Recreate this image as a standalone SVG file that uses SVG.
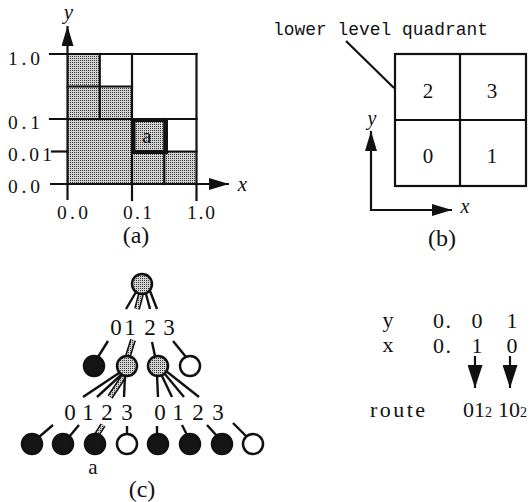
<svg xmlns="http://www.w3.org/2000/svg" width="532" height="502" viewBox="0 0 532 502">
<defs>
<pattern id="stip" width="2" height="2" patternUnits="userSpaceOnUse">
<rect width="2" height="2" fill="#d2d2d2"/>
<rect width="1" height="1" fill="#3a3a3a"/>
</pattern>
<marker id="arr" viewBox="0 0 20 12" refX="20" refY="6" markerWidth="20" markerHeight="12" markerUnits="userSpaceOnUse" orient="auto">
<path d="M0,0 L20,6 L0,12 z" fill="#111"/>
</marker>
<marker id="arr2" viewBox="0 0 23 15" refX="23" refY="7.5" markerWidth="23" markerHeight="15" markerUnits="userSpaceOnUse" orient="auto">
<path d="M0,0 L23,7.5 L0,15 z" fill="#111"/>
</marker>
</defs>
<style>
.ln{stroke:#111;stroke-width:2.2;fill:none;stroke-linecap:square}
.thin{stroke:#111;stroke-width:2.2;fill:none}
.t{font-family:"Liberation Serif",serif;fill:#111}
.it{font-family:"Liberation Serif",serif;font-style:italic;fill:#111}
.mono{font-family:"Liberation Mono",monospace;fill:#111}
.sh{fill:url(#stip)}
.node-sh{fill:url(#stip);stroke:#111;stroke-width:2.5}
.node-bk{fill:#151515;stroke:#111;stroke-width:2.5}
.node-wh{fill:#fff;stroke:#111;stroke-width:2.5}
.edge{stroke:#111;stroke-width:2.4;fill:none}
.hatch-o{stroke:#111;stroke-width:6;fill:none}
.hatch-i{stroke:url(#stip);stroke-width:3;fill:none}
</style>
<rect width="532" height="502" fill="#fff"/>

<!-- Panel (a) -->
<g id="panel-a">
<g id="a-shading">
<rect class="sh" x="67.5" y="54" width="32.25" height="32.5"/>
<rect class="sh" x="67.5" y="86.5" width="64.5" height="32.5"/>
<rect class="sh" x="67.5" y="119" width="64.5" height="65"/>
<rect class="sh" x="132" y="119" width="32.25" height="65"/>
<rect class="sh" x="164.25" y="151.5" width="32.25" height="32.5"/>
</g>
<g id="a-grid">
<line class="ln" x1="50" y1="54" x2="196.5" y2="54"/>
<line class="ln" x1="196.5" y1="54" x2="196.5" y2="200"/>
<line class="ln" x1="50" y1="119" x2="196.5" y2="119"/>
<line class="ln" x1="132" y1="54" x2="132" y2="200"/>
<line class="ln" x1="99.75" y1="54" x2="99.75" y2="119"/>
<line class="ln" x1="67.5" y1="86.5" x2="132" y2="86.5"/>
<line class="ln" x1="164.25" y1="119" x2="164.25" y2="184"/>
<line class="ln" x1="132" y1="151.5" x2="196.5" y2="151.5"/>
<line class="ln" x1="52" y1="151.5" x2="67.5" y2="151.5"/>
<rect x="133.5" y="120" width="32.5" height="32" fill="none" stroke="#111" stroke-width="4"/>
<line class="thin" x1="67.5" y1="200" x2="67.5" y2="26" marker-end="url(#arr)"/>
<line class="thin" x1="50" y1="184" x2="229" y2="184" marker-end="url(#arr)"/>
</g>
<g id="a-labels">
<text class="it" x="68.5" y="19" font-size="21" text-anchor="middle">y</text>
<text class="it" x="242.5" y="191" font-size="21" text-anchor="middle">x</text>
<text class="t" x="8" y="65" font-size="19.5" textLength="32" lengthAdjust="spacing">1.0</text>
<text class="t" x="8" y="129" font-size="19.5" textLength="32" lengthAdjust="spacing">0.1</text>
<text class="t" x="8" y="161" font-size="19.5" textLength="44" lengthAdjust="spacing">0.01</text>
<text class="t" x="8" y="193" font-size="19.5" textLength="32" lengthAdjust="spacing">0.0</text>
<text class="t" x="57" y="219" font-size="19.5" textLength="31" lengthAdjust="spacing">0.0</text>
<text class="t" x="123" y="219" font-size="19.5" textLength="29" lengthAdjust="spacing">0.1</text>
<text class="t" x="187" y="219" font-size="19.5" textLength="28" lengthAdjust="spacing">1.0</text>
<text class="t" x="147" y="143" font-size="21" text-anchor="middle">a</text>
<text class="t" x="136" y="243" font-size="24" text-anchor="middle">(a)</text>
</g>
</g>

<!-- Panel (b) -->
<g id="panel-b">
<text class="mono" x="273" y="35" font-size="17.9" textLength="215" lengthAdjust="spacing">lower level quadrant</text>
<line class="thin" x1="346" y1="41" x2="394" y2="88"/>
<rect x="395" y="54" width="131" height="132" fill="none" stroke="#111" stroke-width="2.2"/>
<line class="thin" x1="460" y1="54" x2="460" y2="186"/>
<line class="thin" x1="395" y1="120" x2="526" y2="120"/>
<text class="t" x="428" y="98" font-size="21" text-anchor="middle">2</text>
<text class="t" x="492" y="98" font-size="21" text-anchor="middle">3</text>
<text class="t" x="428" y="163" font-size="21" text-anchor="middle">0</text>
<text class="t" x="492" y="163" font-size="21" text-anchor="middle">1</text>
<line class="thin" x1="371" y1="211" x2="371" y2="131" marker-end="url(#arr)"/>
<line class="thin" x1="370" y1="210" x2="452" y2="210" marker-end="url(#arr)"/>
<text class="it" x="372" y="125" font-size="20" text-anchor="middle">y</text>
<text class="it" x="465" y="213" font-size="20" text-anchor="middle">x</text>
<text class="t" x="442" y="246" font-size="24" text-anchor="middle">(b)</text>
</g>

<!-- Panel (c): tree -->
<g id="panel-c">
<g id="connectors">
<line class="edge" x1="136" y1="292" x2="126" y2="309"/>
<line class="hatch-o" x1="141" y1="294" x2="137" y2="309"/>
<line class="hatch-i" x1="141" y1="294" x2="137" y2="309"/>
<line class="edge" x1="146" y1="294" x2="150" y2="309"/>
<line class="edge" x1="150" y1="291" x2="157" y2="309"/>

<line class="edge" x1="108" y1="341" x2="98" y2="357"/>
<line class="hatch-o" x1="133" y1="340" x2="128" y2="356"/>
<line class="hatch-i" x1="133" y1="340" x2="128" y2="356"/>
<line class="edge" x1="152" y1="342" x2="155" y2="356"/>
<line class="edge" x1="173" y1="341" x2="186" y2="357"/>

<line class="edge" x1="119" y1="373" x2="83" y2="397"/>
<line class="edge" x1="121" y1="375" x2="97" y2="397"/>
<line class="hatch-o" x1="124" y1="376" x2="110" y2="397"/>
<line class="hatch-i" x1="124" y1="376" x2="110" y2="397"/>
<line class="edge" x1="125" y1="376" x2="124" y2="397"/>

<line class="edge" x1="157" y1="375" x2="158" y2="397"/>
<line class="edge" x1="161" y1="374" x2="172" y2="397"/>
<line class="edge" x1="164" y1="373" x2="184" y2="397"/>
<line class="edge" x1="166" y1="371" x2="199" y2="397"/>

<line class="edge" x1="53" y1="425" x2="39" y2="437"/>
<line class="edge" x1="79" y1="425" x2="69" y2="437"/>
<line class="hatch-o" x1="103" y1="425" x2="96" y2="436"/>
<line class="hatch-i" x1="103" y1="425" x2="96" y2="436"/>
<line class="edge" x1="127" y1="426" x2="127" y2="434"/>
<line class="edge" x1="157" y1="426" x2="157" y2="434"/>
<line class="edge" x1="182" y1="425" x2="187" y2="435"/>
<line class="edge" x1="207" y1="425" x2="217" y2="436"/>
<line class="edge" x1="233" y1="423" x2="247" y2="437"/>
</g>
<g id="edge-labels">
<text class="t" x="116" y="335" font-size="23" text-anchor="middle">0</text>
<text class="t" x="130" y="335" font-size="23" text-anchor="middle">1</text>
<text class="t" x="150" y="335" font-size="23" text-anchor="middle">2</text>
<text class="t" x="169" y="335" font-size="23" text-anchor="middle">3</text>
<text class="t" x="70" y="420" font-size="23" text-anchor="middle">0</text>
<text class="t" x="88" y="420" font-size="23" text-anchor="middle">1</text>
<text class="t" x="107" y="420" font-size="23" text-anchor="middle">2</text>
<text class="t" x="127" y="420" font-size="23" text-anchor="middle">3</text>
<text class="t" x="160" y="420" font-size="23" text-anchor="middle">0</text>
<text class="t" x="178" y="420" font-size="23" text-anchor="middle">1</text>
<text class="t" x="198" y="420" font-size="23" text-anchor="middle">2</text>
<text class="t" x="218" y="420" font-size="23" text-anchor="middle">3</text>
</g>
<g id="root"><circle class="node-sh" cx="142" cy="284" r="10"/></g>
<g id="n0"><circle class="node-bk" cx="94" cy="366" r="10"/></g>
<g id="n1"><circle class="node-sh" cx="127" cy="366" r="10"/></g>
<g id="n2"><circle class="node-sh" cx="158" cy="366" r="10"/></g>
<g id="n3"><circle class="node-wh" cx="190" cy="366" r="10"/></g>
<g id="l10"><circle class="node-bk" cx="32" cy="444" r="10"/></g>
<g id="l11"><circle class="node-bk" cx="63" cy="444" r="10"/></g>
<g id="l12"><circle class="node-bk" cx="95" cy="444" r="10"/></g>
<g id="l13"><circle class="node-wh" cx="127" cy="444" r="10"/></g>
<g id="l20"><circle class="node-bk" cx="158" cy="444" r="10"/></g>
<g id="l21"><circle class="node-bk" cx="190" cy="444" r="10"/></g>
<g id="l22"><circle class="node-bk" cx="222" cy="444" r="10"/></g>
<g id="l23"><circle class="node-wh" cx="253" cy="444" r="10"/></g>
<text class="t" x="93" y="474" font-size="21" text-anchor="middle">a</text>
<text class="t" x="142" y="497" font-size="24" text-anchor="middle">(c)</text>
</g>

<!-- Route -->
<g id="route">
<text class="t" x="388" y="327" font-size="22" text-anchor="middle">y</text>
<text class="t" x="388" y="352" font-size="22" text-anchor="middle">x</text>
<text class="t" x="433" y="328" font-size="22" textLength="18" lengthAdjust="spacing">0.</text>
<text class="t" x="433" y="353" font-size="22" textLength="18" lengthAdjust="spacing">0.</text>
<text class="t" x="477" y="328" font-size="22" text-anchor="middle">0</text>
<text class="t" x="512" y="328" font-size="22" text-anchor="middle">1</text>
<text class="t" x="477" y="353" font-size="22" text-anchor="middle">1</text>
<text class="t" x="512" y="353" font-size="22" text-anchor="middle">0</text>
<line class="thin" x1="475" y1="356" x2="475" y2="388" marker-end="url(#arr2)"/>
<line class="thin" x1="510" y1="356" x2="510" y2="388" marker-end="url(#arr2)"/>
<text class="t" x="370" y="417" font-size="22" textLength="55" lengthAdjust="spacing">route</text>
<text class="t" x="463" y="417" font-size="22">01<tspan font-size="14">2</tspan></text>
<text class="t" x="498" y="417" font-size="22">10<tspan font-size="14">2</tspan></text>
</g>
</svg>
